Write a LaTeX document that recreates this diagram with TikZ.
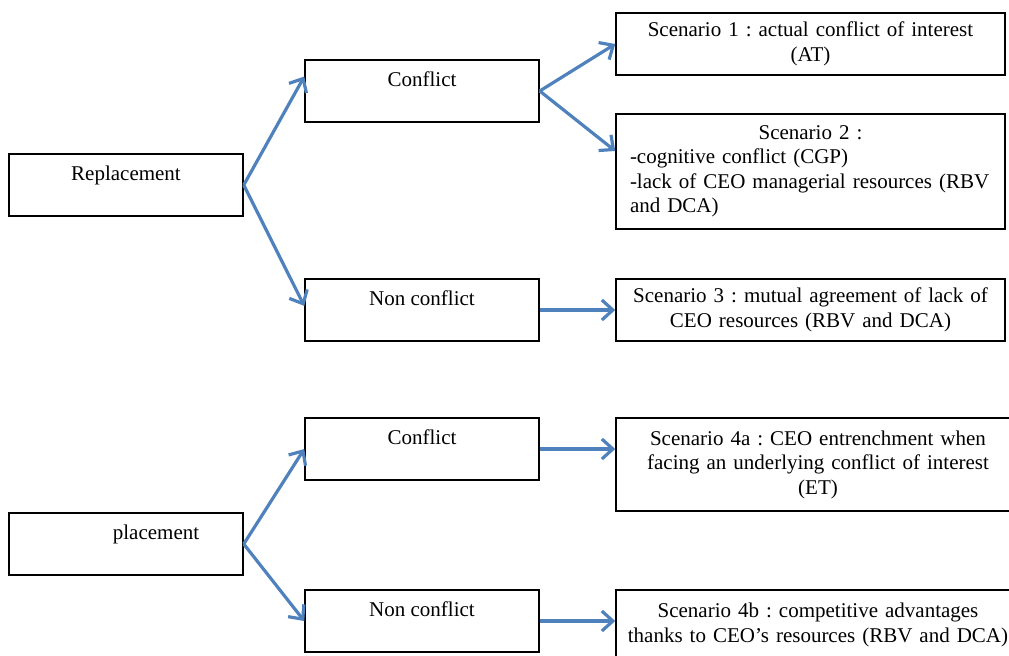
\documentclass[tikz,border=0pt]{standalone}
\usepackage{fontspec}
\setmainfont{Liberation Serif}
\usepackage{xcolor}
\usetikzlibrary{arrows.meta}
\frenchspacing

\definecolor{arrowblue}{RGB}{79,129,189}

\tikzset{
catbox/.style={draw, line width=.75pt, minimum width=117pt, minimum height=31pt, inner sep=0pt, text height=13pt, text depth=18pt},
scenbox/.style={draw, line width=.75pt, minimum width=194.5pt, inner sep=0pt, align=center, text width=190pt},
link/.style={draw=arrowblue, line width=1.6pt, -{Straight Barb[length=5.5pt,width=10pt]}}
}

\begin{document}
\begin{tikzpicture}[x=0.5pt,y=-0.5pt,font=\fontsize{10.5}{12.25}\selectfont]
\useasboundingbox (0,0) rectangle (1009,655);

\node[catbox] (rep) at (126,185) {Replacement};
\node[catbox] (conf1) at (422,91) {Conflict};
\node[catbox] (nonconf1) at (422,310) {Non conflict};
\node[catbox] (plac) at (126,544) {\hspace*{30pt}placement};
\node[catbox] (conf2) at (422,449) {Conflict};
\node[catbox] (nonconf2) at (422,621) {Non conflict};

\node[scenbox, minimum height=31pt] (scen1) at (810.5,44) {Scenario 1 : actual conflict of interest\\(AT)};
\node[scenbox, minimum height=57.5pt, align=left, text width=180.5pt] (scen2) at (810.5,171.5) {\makebox[\linewidth]{Scenario 2 :}\\-cognitive conflict (CGP)\\-lack of CEO managerial resources (RBV\\and DCA)};
\node[scenbox, minimum height=31pt] (scen3) at (810.5,310) {Scenario 3 : mutual agreement of lack of\\CEO resources (RBV and DCA)};
\node[scenbox, minimum width=202pt, text width=200pt, minimum height=46.5pt] (scen4a) at (818,464.5) {Scenario 4a : CEO entrenchment when\\facing an underlying conflict of interest\\(ET)};
\node[scenbox, minimum width=202pt, text width=200pt, minimum height=35pt] (scen4b) at (818,625) {Scenario 4b : competitive advantages\\thanks to CEO’s resources (RBV and DCA)};

\draw[link] (rep.east) -- (conf1.173);
\draw[link] (rep.east) -- (nonconf1.178);
\draw[link] (conf1.east) -- (scen1.west);
\draw[link] (conf1.east) -- (scen2.174);
\draw[link] (nonconf1.east) -- (scen3.west);
\draw[link] (plac.east) -- (conf2.west);
\draw[link] (plac.east) -- (nonconf2.west);
\draw[link] (conf2.east) -- (conf2.east -| scen4a.west);
\draw[link] (nonconf2.east) -- (nonconf2.east -| scen4b.west);
\end{tikzpicture}
\end{document}
